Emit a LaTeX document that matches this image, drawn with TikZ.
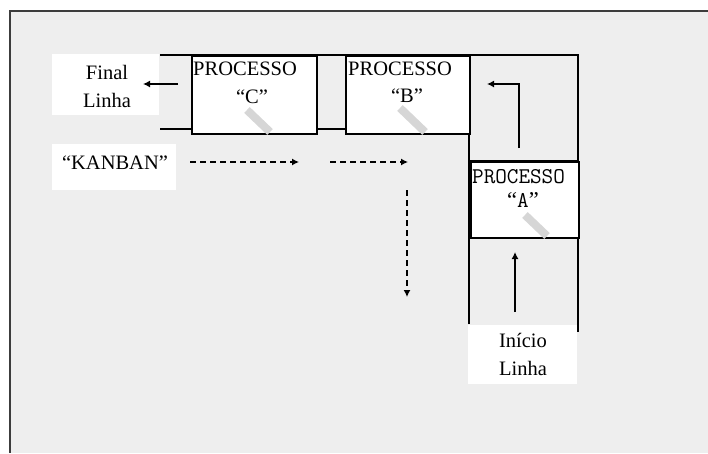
\documentclass[tikz,border=0pt]{standalone}
\usepackage{fontspec}
\setmainfont{Liberation Serif}
\usetikzlibrary{arrows.meta}
\definecolor{bg}{RGB}{238,238,238}
\definecolor{frame}{RGB}{60,60,60}
\definecolor{hatch}{RGB}{214,214,214}
\tikzset{
  boxline/.style={line width=1.5pt, draw=black},
  procbox/.style={boxline, fill=white, inner sep=0pt, anchor=north west},
  whitebox/.style={fill=white, draw=none, inner sep=0pt},
  txt/.style={inner sep=0pt, font=\fontsize{20.5}{28}\selectfont, align=center},
  mtxt/.style={inner sep=0pt, font=\ttfamily\fontsize{22.5}{28}\selectfont},
  flow/.style={line width=1.3pt, -{Latex[length=7pt,width=7pt]}},
  kanban/.style={line width=1.3pt, dash pattern=on 6pt off 4pt, -{Latex[length=7pt,width=7pt]}},
  grip/.style={line width=8pt, draw=hatch, line cap=butt}
}
\begin{document}
\begin{tikzpicture}[x=1pt,y=-1pt]
\useasboundingbox (0,0) rectangle (708,453);
\fill[white] (0,0) rectangle (708,453);
\fill[bg] (10,11) rectangle (708,453);
\draw[line width=2pt, frame] (708,11) -- (10,11) -- (10,453);

% conveyor lines
\draw[boxline] (160,55) -- (578,55) -- (578,332);
\draw[boxline] (160,129) -- (191,129);
\draw[boxline] (315,129) -- (345,129);
\draw[boxline] (469,55) -- (469,324);
\draw[boxline] (469,161) -- (578,161);

% process boxes
\node[procbox, minimum width=125pt, minimum height=78pt] (C) at (191,55) {};
\node[procbox, minimum width=124pt, minimum height=78pt] (B) at (345,55) {};
\node[procbox, minimum width=108pt, minimum height=76pt] (A) at (470,161) {};

% grips
\draw[grip] (247,110) -- (270,132);
\draw[grip] (400,108) -- (425,132);
\draw[grip] (525,215) -- (547,236);

% process texts
\node[txt, anchor=west] (Ct) at (193,69) {PROCESSO};
\node[txt] (Cq) at (252,97) {“C”};
\node[txt, anchor=west] (Bt) at (348,69) {PROCESSO};
\node[txt] (Bq) at (407,96) {“B”};
\node[mtxt, anchor=west] (At) at (472,177) {PROCESSO};
\node[mtxt] (Aq) at (523,200) {{\rmfamily “}A{\rmfamily ”}};

% labels
\node[whitebox, minimum width=107pt, minimum height=61pt] (finalbox) at (105.5,84.5) {};
\node[txt] (final) at (107,86) {Final\\Linha};
\node[whitebox, minimum width=124pt, minimum height=46pt] (kanbanbox) at (114,167) {};
\node[txt] (kanbantxt) at (115,163) {“KANBAN”};
\node[whitebox, minimum width=109pt, minimum height=59pt] (iniciobox) at (522.5,354.5) {};
\node[txt] (inicio) at (523,354) {Início\\Linha};

% arrows
\coordinate (f1) at (178,84); \coordinate (f2) at (143,84);
\draw[flow] (f1) -- (f2);
\coordinate (r1) at (519,148); \coordinate (r2) at (487,84);
\draw[flow] (r1) |- (r2);
\coordinate (a1) at (515,312); \coordinate (a2) at (515,252);
\draw[flow] (a1) -- (a2);

% kanban flow
\coordinate (k1) at (190,162); \coordinate (k2) at (299,162);
\draw[kanban] (k1) -- (k2);
\coordinate (k3) at (330,162); \coordinate (k4) at (408,162);
\draw[kanban] (k3) -- (k4);
\coordinate (k5) at (407,190); \coordinate (k6) at (407,297);
\draw[kanban] (k5) -- (k6);
\end{tikzpicture}
\end{document}
